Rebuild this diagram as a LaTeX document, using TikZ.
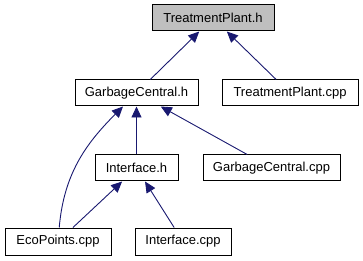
\documentclass[tikz,border=0pt]{standalone}
\usepackage{fontspec}
\setmainfont{Liberation Sans}
\usetikzlibrary{arrows.meta}
\definecolor{depblue}{RGB}{25,25,112}
\definecolor{headgray}{RGB}{191,191,191}
\begin{document}
\begin{tikzpicture}[x=1pt, y=-1pt,
    every node/.style={rectangle, draw, line width=1pt, inner sep=0pt,
      minimum height=26pt, font=\fontsize{13}{15}\selectfont},
    dep/.style={-{Triangle[length=11pt,width=10pt]}, line width=0.9pt, depblue}]
        \useasboundingbox (0,0) rectangle (363,261);
        \node[fill=headgray, minimum width=122pt] (1) at (213,18) {TreatmentPlant.h};
        \node[minimum width=123pt] (2) at (136.5,93) {GarbageCentral.h};
        \node[minimum width=136pt] (3) at (290,93) {TreatmentPlant.cpp};
        \node[minimum width=83pt] (4) at (136.5,168) {Interface.h};
        \node[minimum width=137pt] (5) at (271.5,168) {GarbageCentral.cpp};
        \node[minimum width=106pt, minimum height=27pt] (6) at (58,241.5) {EcoPoints.cpp};
        \node[minimum width=96pt, minimum height=27pt] (7) at (183,241.5) {Interface.cpp};

        \path[dep]
            (2) edge (1)
            (3) edge (1)
            (4) edge (2)
            (5) edge (2)
            (6) edge[out=85, in=-135] (2)
            (6) edge (4)
            (7) edge (4);
    \end{tikzpicture}
\end{document}
